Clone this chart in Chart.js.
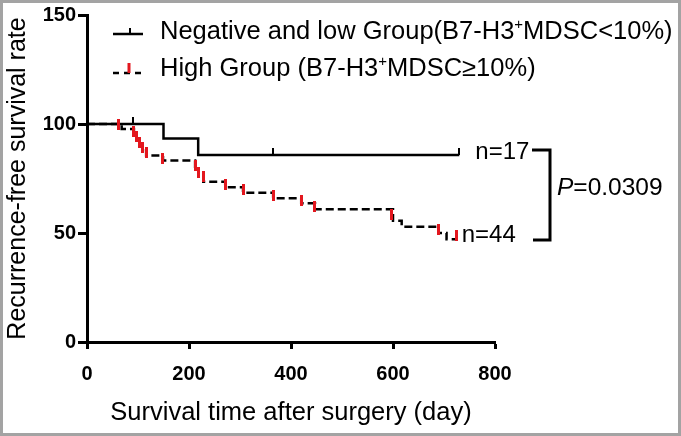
<!DOCTYPE html>
<html>
<head>
<meta charset="utf-8">
<script src="https://cdn.jsdelivr.net/npm/chart.js@4"></script>
<style>
  html, body { margin: 0; padding: 0; background: #fff; }
  canvas { display: block; }
</style>
</head>
<body>
<canvas id="kmChart" width="681" height="436"></canvas>
<script>
// Kaplan-Meier curves, recurrence-free survival by B7-H3+ MDSC level
const lowTimes = [0, 150, 218, 730];
const lowSurv = [100, 93.3, 85.8, 85.8];
const lowCensorTimes = [91, 365, 730];
const lowCensorSurv = [100, 85.8, 85.8];

const highTimes = [0, 68, 92, 97, 103, 109, 116, 149, 212, 219, 228, 271, 306, 365, 420, 447, 600, 617, 689, 705, 725];
const highSurv = [100, 97.7, 95.3, 92.9, 90.5, 88.0, 85.5, 83.2, 78.9, 76.2, 73.5, 71.0, 68.5, 65.9, 63.6, 60.9, 55.6, 52.9, 50.0, 47.1, 47.1];
const highCensorTimes = [61, 92, 97, 103, 109, 116, 149, 212, 219, 229, 271, 306, 365, 420, 447, 597, 689, 725];
const highCensorSurv = [100, 96.5, 94.1, 91.7, 89.3, 86.8, 84.4, 81.0, 77.6, 75.8, 72.3, 69.8, 67.2, 64.8, 62.3, 58.5, 51.5, 49.0];

const xTicks = [0, 200, 400, 600, 800];
const yTicks = [0, 50, 100, 150];

const FONT = '"Liberation Sans", Arial, Helvetica, sans-serif';
const RED = '#e3171e';

function toPoints(xs, ys) {
  return xs.map((x, i) => ({x: x, y: ys[i]}));
}

// censor tick marks used as point styles
function tickMark(color, w, h, upOnly) {
  const c = document.createElement('canvas');
  c.width = w;
  c.height = upOnly ? h * 2 : h;
  const g = c.getContext('2d');
  g.fillStyle = color;
  g.fillRect(0, 0, w, h);
  return c;
}
const blackTick = tickMark('#000', 2, 7, true);
const redTick = tickMark(RED, 3, 11, false);

function drawSup(ctx, parts, x, y, size) {
  let cx = x;
  parts.forEach(p => {
    if (p.sup) {
      ctx.font = Math.round(size * 0.6) + 'px ' + FONT;
      ctx.fillText(p.t, cx, y - size * 0.38);
    } else {
      ctx.font = size + 'px ' + FONT;
      ctx.fillText(p.t, cx, y);
    }
    cx += ctx.measureText(p.t).width;
  });
}

const extras = {
  id: 'extras',
  afterDraw(chart) {
    const ctx = chart.ctx;
    const xs = chart.scales.x, ys = chart.scales.y;
    ctx.save();
    // frame
    ctx.strokeStyle = '#a3a3a3';
    ctx.lineWidth = 3;
    ctx.strokeRect(1.5, 1.5, chart.width - 3, chart.height - 3);

    // legend
    ctx.fillStyle = '#000';
    ctx.strokeStyle = '#000';
    ctx.lineWidth = 2.5;
    ctx.beginPath();
    ctx.moveTo(113, 34); ctx.lineTo(143, 34);
    ctx.stroke();
    ctx.lineWidth = 2;
    ctx.beginPath();
    ctx.moveTo(130, 28); ctx.lineTo(130, 34);
    ctx.stroke();
    ctx.lineWidth = 2.5;
    ctx.setLineDash([6, 5]);
    ctx.beginPath();
    ctx.moveTo(113, 73); ctx.lineTo(145, 73);
    ctx.stroke();
    ctx.setLineDash([]);
    ctx.strokeStyle = RED;
    ctx.lineWidth = 3;
    ctx.beginPath();
    ctx.moveTo(129, 63); ctx.lineTo(129, 73);
    ctx.stroke();

    ctx.textBaseline = 'alphabetic';
    ctx.textAlign = 'left';
    drawSup(ctx, [{t: 'Negative and low Group(B7-H3'}, {t: '+', sup: true}, {t: 'MDSC<10%)'}], 160, 39, 25.5);
    drawSup(ctx, [{t: 'High Group (B7-H3'}, {t: '+', sup: true}, {t: 'MDSC\u226510%)'}], 160, 76, 25.5);

    // group sizes, bracket and p value
    ctx.font = '24px ' + FONT;
    const endLow = xs.getPixelForValue(730);
    const endHigh = xs.getPixelForValue(725);
    ctx.fillText('n=17', endLow + 16, ys.getPixelForValue(85.8) + 4);
    ctx.fillText('n=44', endHigh + 5, ys.getPixelForValue(47.1) + 3);

    ctx.strokeStyle = '#000';
    ctx.lineWidth = 3;
    ctx.beginPath();
    ctx.moveTo(532, 150); ctx.lineTo(550, 150); ctx.lineTo(550, 240); ctx.lineTo(533, 240);
    ctx.stroke();

    ctx.font = 'italic 24.5px ' + FONT;
    ctx.fillText('P', 557, 195);
    const pw = ctx.measureText('P').width;
    ctx.font = '24.5px ' + FONT;
    ctx.fillText('=0.0309', 557 + pw, 195);
    ctx.restore();
  }
};

new Chart(document.getElementById('kmChart'), {
  type: 'line',
  data: {
    datasets: [
      {
        label: 'Negative censored',
        data: toPoints(lowCensorTimes, lowCensorSurv),
        showLine: false,
        pointStyle: blackTick,
        order: 0
      },
      {
        label: 'High censored',
        data: toPoints(highCensorTimes, highCensorSurv),
        showLine: false,
        pointStyle: redTick,
        order: 0
      },
      {
        label: 'Negative and low Group',
        data: toPoints(lowTimes, lowSurv),
        stepped: 'before',
        borderColor: '#000',
        borderWidth: 2.5,
        pointRadius: 0,
        fill: false,
        order: 1
      },
      {
        label: 'High Group',
        data: toPoints(highTimes, highSurv),
        stepped: 'before',
        borderColor: '#000',
        borderWidth: 2.5,
        borderDash: [8, 4],
        pointRadius: 0,
        fill: false,
        order: 1
      }
    ]
  },
  options: {
    responsive: false,
    animation: false,
    layout: {padding: {top: 15, right: 186, bottom: 0, left: 0}},
    plugins: {legend: {display: false}, tooltip: {enabled: false}},
    scales: {
      x: {
        type: 'linear',
        min: 0,
        max: 800,
        border: {display: true, color: '#000', width: 3},
        grid: {display: true, drawOnChartArea: false, drawTicks: true, tickLength: 7, tickWidth: 3, tickColor: '#000'},
        ticks: {color: '#000', font: {family: FONT, size: 20, weight: 'bold'}, padding: 13, maxRotation: 0},
        title: {display: true, text: 'Survival time after surgery (day)', color: '#000', font: {family: FONT, size: 25.5}, padding: {top: 0, bottom: 8}},
        afterBuildTicks: s => { s.ticks = xTicks.map(v => ({value: v})); },
        afterFit: s => { s.height = 94; }
      },
      y: {
        min: 0,
        max: 150,
        border: {display: true, color: '#000', width: 3},
        grid: {display: true, drawOnChartArea: false, drawTicks: true, tickLength: 9, tickWidth: 3, tickColor: '#000'},
        ticks: {color: '#000', font: {family: FONT, size: 20, weight: 'bold'}, padding: 2},
        title: {display: true, text: 'Recurrence-free survival rate', color: '#000', font: {family: FONT, size: 25}, padding: {top: 3, bottom: 0}},
        afterBuildTicks: s => { s.ticks = yTicks.map(v => ({value: v})); },
        afterFit: s => { s.width = 87; }
      }
    }
  },
  plugins: [extras]
});
</script>
</body>
</html>
